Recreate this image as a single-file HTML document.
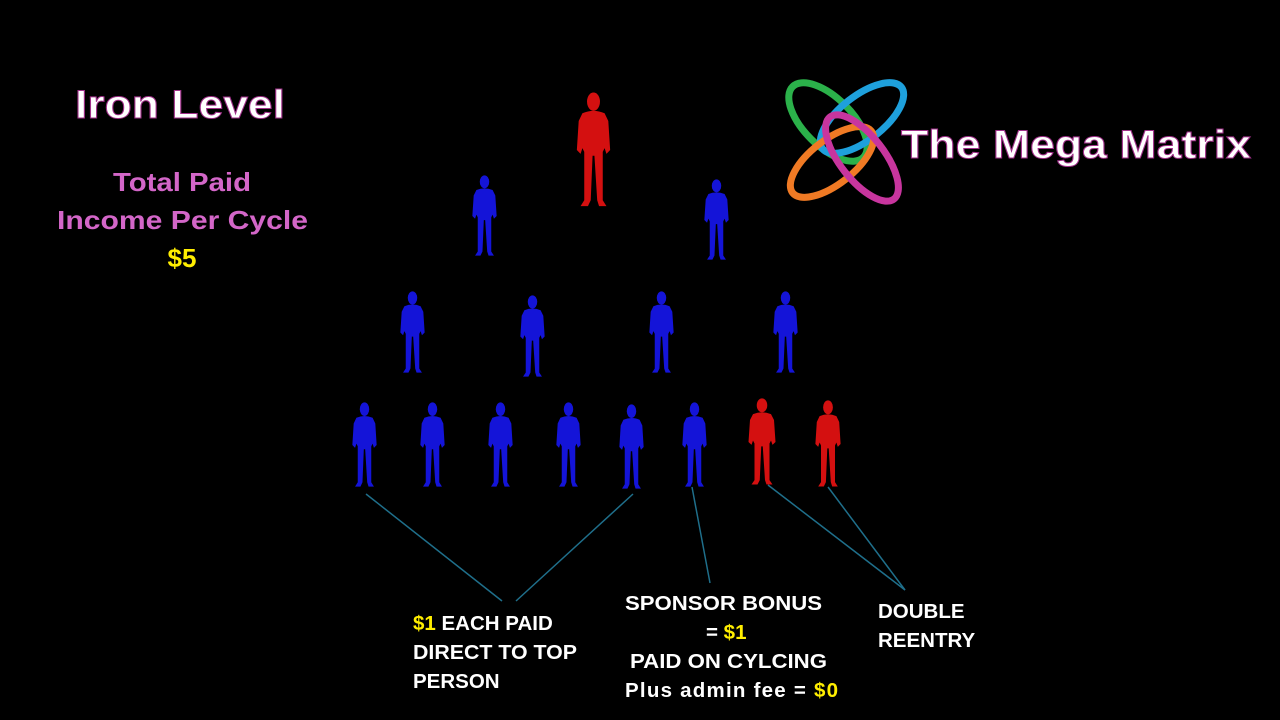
<!DOCTYPE html>
<html><head><meta charset="utf-8"><style>
html,body{margin:0;padding:0;background:#000;width:1280px;height:720px;overflow:hidden}
svg{position:absolute;left:0;top:0}
text{font-family:"Liberation Sans",sans-serif;font-weight:bold}
</style></head><body>
<svg width="1280" height="720" viewBox="0 0 1280 720">
<defs>
<symbol id="p" viewBox="0 0 40 120" preserveAspectRatio="none">
<ellipse cx="20" cy="10" rx="7" ry="9.5"/>
<path d="M8 22 Q20 17 32 22 L36 30 L38 60 L34 64 L32 58 L30 62 L30 112 L34 118 L26 118 L24 112 L21 66 L19 66 L17 112 L14 118 L6 118 L10 112 L10 62 L8 58 L6 64 L2 60 L4 30 Z"/>
</symbol>
</defs>
<rect width="1280" height="720" fill="#000"/>
<g fill="#d41010"><use href="#p" x="575" y="92" width="37" height="116"/></g>
<g fill="#1414d8">
<use href="#p" x="471" y="175" width="27" height="82"/>
<use href="#p" x="703" y="179" width="27" height="82"/>
<use href="#p" x="399" y="291" width="27" height="83"/>
<use href="#p" x="519" y="295" width="27" height="83"/>
<use href="#p" x="648" y="291" width="27" height="83"/>
<use href="#p" x="772" y="291" width="27" height="83"/>
<use href="#p" x="351" y="402" width="27" height="86"/>
<use href="#p" x="419" y="402" width="27" height="86"/>
<use href="#p" x="487" y="402" width="27" height="86"/>
<use href="#p" x="555" y="402" width="27" height="86"/>
<use href="#p" x="618" y="404" width="27" height="86"/>
<use href="#p" x="681" y="402" width="27" height="86"/>
</g>
<g fill="#d41010">
<use href="#p" x="747" y="398" width="30" height="88"/>
<use href="#p" x="814" y="400" width="28" height="88"/>
</g>
<g stroke="#1f6f8b" stroke-width="1.5">
<line x1="366" y1="494" x2="502" y2="601"/>
<line x1="633" y1="494" x2="516" y2="601"/>
<line x1="692" y1="487" x2="710" y2="583"/>
<line x1="768" y1="485" x2="905" y2="590"/>
<line x1="828" y1="487" x2="905" y2="590"/>
</g>
<g fill="none" stroke-width="7">
<ellipse cx="828" cy="122" rx="50" ry="24" transform="rotate(45 828 122)" stroke="#2bb14a"/>
<ellipse cx="862" cy="118" rx="50" ry="22" transform="rotate(-38 862 118)" stroke="#1ea0dc"/>
<ellipse cx="832" cy="162" rx="50" ry="22" transform="rotate(-38 832 162)" stroke="#f07a24"/>
<ellipse cx="862" cy="158" rx="52" ry="22" transform="rotate(52 862 158)" stroke="#c8359e"/>
</g>
<text x="901" y="158" font-size="40" fill="#fff" stroke="#a0308a" stroke-width="1" textLength="350" lengthAdjust="spacingAndGlyphs">The Mega Matrix</text>
<text x="75" y="118" font-size="40" fill="#fff" stroke="#a0308a" stroke-width="1" textLength="210" lengthAdjust="spacingAndGlyphs">Iron Level</text>
<g font-size="26" fill="#d366c8">
<text x="113" y="191" textLength="138" lengthAdjust="spacingAndGlyphs">Total Paid</text>
<text x="57" y="229" textLength="251" lengthAdjust="spacingAndGlyphs">Income Per Cycle</text>
</g>
<text x="182" y="267" font-size="26" fill="#ffee00" text-anchor="middle">$5</text>
<g font-size="20.5" fill="#fff">
<text x="413" y="630"><tspan fill="#ffee00">$1</tspan> EACH PAID</text>
<text x="413" y="659" textLength="164" lengthAdjust="spacingAndGlyphs">DIRECT TO TOP</text>
<text x="413" y="688">PERSON</text>
<text x="625" y="610" textLength="197" lengthAdjust="spacingAndGlyphs">SPONSOR BONUS</text>
<text x="706" y="639">= <tspan fill="#ffee00">$1</tspan></text>
<text x="630" y="668" textLength="197" lengthAdjust="spacingAndGlyphs">PAID ON CYLCING</text>
<text x="625" y="697" textLength="213" lengthAdjust="spacing">Plus admin fee  = <tspan fill="#ffee00">$0</tspan></text>
<text x="878" y="618">DOUBLE</text>
<text x="878" y="647">REENTRY</text>
</g>
</svg>
</body></html>
